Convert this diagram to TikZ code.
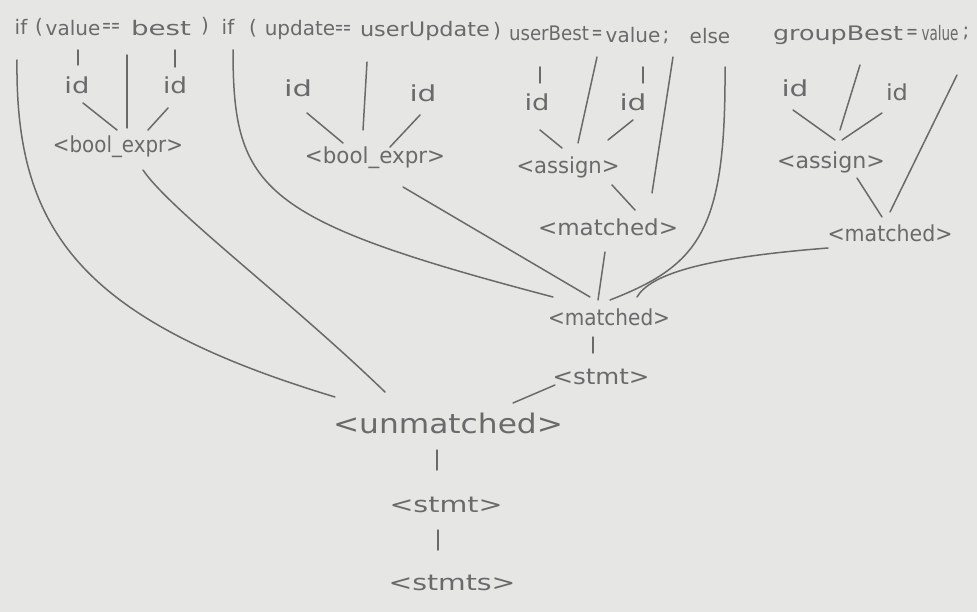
\documentclass[tikz,border=0pt]{standalone}
\usepackage{fontspec}
\setmainfont{DejaVu Sans}
\usepackage{graphicx}
\usetikzlibrary{calc}
\definecolor{paper}{HTML}{E6E6E4}
\definecolor{pencil}{HTML}{6A6A6A}
\newcommand{\fitw}[2]{\resizebox{#1pt}{\height}{#2}}
\begin{document}
\begin{tikzpicture}[x=1pt,y=-1pt,
  lbl/.style={inner sep=0pt, text=pencil, font=\fontsize{22}{24}\selectfont},
  tok/.style={inner sep=0pt, text=pencil, font=\fontsize{20}{22}\selectfont},
  big/.style={inner sep=0pt, text=pencil, font=\fontsize{27}{30}\selectfont},
  edge/.style={draw=pencil, line width=1.5pt, line cap=round}]
\fill[paper] (0,0) rectangle (977,612);
\useasboundingbox (0,0) rectangle (977,612);
% ---- source tokens
\node[tok] (if1) at (21,27) {if};
\node[tok] (lp1) at (39,27) {(};
\node[tok] (val1) at (73,28) {value};
\node[tok] (eq1) at (111,28) {\fitw{18}{==}};
\node[tok] (best) at (161,28) {\fitw{60}{best}};
\node[tok] (rp1) at (205,26) {)};
\node[tok] (if2) at (228,27) {if};
\node[tok] (lp2) at (253,28) {(};
\node[tok] (upd) at (300,30) {update};
\node[tok] (eq2) at (343,30) {\fitw{16}{==}};
\node[tok] (uupd) at (425,31) {\fitw{130}{userUpdate}};
\node[tok] (rp2) at (497,31) {)};
\node[tok] (ubest) at (549,33) {\fitw{80}{userBest}};
\node[tok] (as) at (597,35) {\fitw{11}{=}};
\node[tok] (val2) at (633,35) {value};
\node[tok] (sc1) at (666,37) {;};
\node[tok] (else) at (710,36) {else};
\node[tok] (gbest) at (838,35) {\fitw{130}{groupBest}};
\node[tok] (as3) at (912,34) {\fitw{12}{=}};
\node[tok] (val3) at (940,33) {\fitw{37}{value}};
\node[tok] (sc2) at (966,33) {;};
% ---- tree nodes
\node[lbl] (id1) at (77,85) {\fitw{25}{id}};
\node[lbl] (id2) at (175,85) {\fitw{24}{id}};
\node[lbl] (be1) at (118,147) {\fitw{130}{<bool\_expr>}};
\node[lbl] (id3) at (298,88) {\fitw{28}{id}};
\node[lbl] (id4) at (423,93) {\fitw{27}{id}};
\node[lbl] (be2) at (375,158) {\fitw{140}{<bool\_expr>}};
\node[lbl] (id5) at (537,102) {\fitw{25}{id}};
\node[lbl] (id6) at (633,102) {\fitw{27}{id}};
\node[lbl] (as1) at (568,167) {\fitw{103}{<assign>}};
\node[lbl] (m1) at (608,227) {\fitw{140}{<matched>}};
\node[lbl] (id7) at (795,88) {\fitw{27}{id}};
\node[lbl] (id8) at (897,92) {\fitw{22}{id}};
\node[lbl] (as2) at (831,162) {\fitw{108}{<assign>}};
\node[lbl] (m2) at (890,233) {\fitw{125}{<matched>}};
\node[lbl] (m3) at (609,317) {\fitw{122}{<matched>}};
\node[lbl] (st1) at (601,377) {\fitw{97}{<stmt>}};
\node[big] (unm) at (448,423) {\fitw{230}{<unmatched>}};
\node[lbl] (st2) at (446,505) {\fitw{113}{<stmt>}};
\node[lbl] (sts) at (452,583) {\fitw{127}{<stmts>}};
% ---- connectors
\draw[edge] ($(val1)+(5,22)$) -- ($(id1)+(1,-20)$);
\draw[edge] ($(best)+(14,22)$) -- ($(id2)+(0,-18)$);
\draw[edge] ($(eq1)+(16,27)$) -- ($(be1)+(9,-19)$);
\draw[edge] ($(id1)+(6,18)$) -- ($(be1)+(-1,-17)$);
\draw[edge] ($(id2)+(-7,23)$) -- ($(be1)+(30,-17)$);
\draw[edge] ($(be1)+(25,23)$) .. controls +(27,40) and +(-95,-92) .. ($(unm)+(-63,-31)$);
\draw[edge] ($(if1)+(-4,33)$) .. controls +(-2,170) and +(-255,-77) .. ($(unm)+(-113,-26)$);
\draw[edge] ($(if2)+(5,23)$) .. controls +(0,140) and +(-293,-77) .. ($(m3)+(-56,-20)$);
\draw[edge] ($(eq2)+(24,32)$) -- ($(be2)+(-12,-28)$);
\draw[edge] ($(id3)+(9,25)$) -- ($(be2)+(-32,-15)$);
\draw[edge] ($(id4)+(-3,22)$) -- ($(be2)+(15,-11)$);
\draw[edge] ($(be2)+(28,29)$) -- ($(m3)+(-19,-20)$);
\draw[edge] ($(ubest)+(-9,34)$) -- ($(id5)+(3,-19)$);
\draw[edge] ($(val2)+(10,32)$) -- ($(id6)+(10,-19)$);
\draw[edge] ($(as)+(0,22)$) -- ($(as1)+(10,-24)$);
\draw[edge] ($(id5)+(3,28)$) -- ($(as1)+(-6,-19)$);
\draw[edge] ($(id6)+(0,18)$) -- ($(as1)+(40,-27)$);
\draw[edge] ($(sc1)+(7,20)$) -- ($(m1)+(44,-34)$);
\draw[edge] ($(as1)+(44,18)$) -- ($(m1)+(27,-17)$);
\draw[edge] ($(m1)+(-3,25)$) -- ($(m3)+(-11,-17)$);
\draw[edge] ($(else)+(15,31)$) .. controls +(1,163) and +(90,-35) .. ($(m3)+(1,-17)$);
\draw[edge] ($(gbest)+(22,30)$) -- ($(as2)+(9,-32)$);
\draw[edge] ($(id7)+(-2,22)$) -- ($(as2)+(4,-22)$);
\draw[edge] ($(id8)+(-15,21)$) -- ($(as2)+(11,-22)$);
\draw[edge] ($(sc2)+(-9,42)$) -- ($(m2)+(0,-21)$);
\draw[edge] ($(as2)+(26,16)$) -- ($(m2)+(-8,-16)$);
\draw[edge] ($(m2)+(-62,15)$) .. controls +(-128,10) and +(13,-22) .. ($(m3)+(28,-20)$);
\draw[edge] ($(m3)+(-16,20)$) -- ($(st1)+(-8,-24)$);
\draw[edge] ($(st1)+(-46,8)$) -- ($(unm)+(65,-20)$);
\draw[edge] ($(unm)+(-11,27)$) -- ($(st2)+(-9,-35)$);
\draw[edge] ($(st2)+(-8,25)$) -- ($(sts)+(-14,-33)$);
\end{tikzpicture}
\end{document}
